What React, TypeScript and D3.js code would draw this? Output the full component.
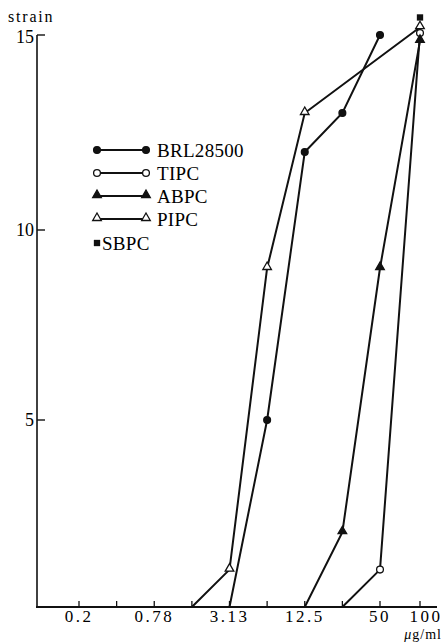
import React, { useEffect, useRef } from 'react';
import * as d3 from 'd3';

// two-fold dilution series (μg/ml)
const concentrations = [0.1, 0.2, 0.39, 0.78, 1.56, 3.13, 6.25, 12.5, 25, 50, 100];
const tickLabels = ['0.2', '0.78', '3.13', '12.5', '50', '100'];
const yTicks = [5, 10, 15];

// cumulative number of strains inhibited
const brl28500 = [[3.13, 0], [6.25, 5], [12.5, 12], [25, 13], [50, 15]];
const tipc = [[25, 0], [50, 1], [100, 15.05]];
const abpc = [[12.5, 0], [25, 2], [50, 9], [100, 14.85]];
const pipc = [[1.56, 0], [3.13, 1], [6.25, 9], [12.5, 13], [100, 15.2]];
const sbpc = [[100, 15.45]];

const seriesNames = ['BRL28500', 'TIPC', 'ABPC', 'PIPC', 'SBPC'];

const App = () => {
  const ref = useRef<SVGSVGElement>(null);

  useEffect(() => {
    const svg = d3.select(ref.current);
    svg.selectAll('*').remove();

    const font = '"Liberation Serif", "DejaVu Serif", serif';
    const idx = (c: number) => concentrations.indexOf(c);

    const x = d3.scaleLinear().domain([1, 9, 10]).range([79, 380, 420]);
    const y = d3.scaleLinear().domain([0, 5, 10, 15]).range([607, 420, 230, 35]);

    // axes
    svg.append('line')
      .attr('x1', 37).attr('x2', 37).attr('y1', y(15)).attr('y2', y(0))
      .attr('stroke', '#111').attr('stroke-width', 1.6);
    svg.append('line')
      .attr('x1', 36).attr('x2', 437).attr('y1', y(0)).attr('y2', y(0))
      .attr('stroke', '#111').attr('stroke-width', 1.8);

    svg.selectAll('.ytick')
      .data(yTicks)
      .join('line')
      .attr('x1', 37).attr('x2', 45)
      .attr('y1', d => y(d)).attr('y2', d => y(d))
      .attr('stroke', '#111').attr('stroke-width', 1.4);

    svg.selectAll('.ylab')
      .data(yTicks)
      .join('text')
      .attr('x', 34).attr('y', d => y(d) + (d === 15 ? 8 : 6))
      .attr('text-anchor', 'end')
      .attr('font-family', font).attr('font-size', 18)
      .text(d => d);

    svg.append('text')
      .attr('x', 8).attr('y', 22)
      .attr('font-family', font).attr('font-size', 16)
      .attr('letter-spacing', 1.8)
      .text('strain');

    const xt = concentrations.slice(1);
    svg.selectAll('.xtick')
      .data(xt)
      .join('line')
      .attr('x1', d => x(idx(d))).attr('x2', d => x(idx(d)))
      .attr('y1', y(0)).attr('y2', y(0) - 6)
      .attr('stroke', '#111').attr('stroke-width', 1.3);

    svg.selectAll('.xlab')
      .data(tickLabels)
      .join('text')
      .attr('x', d => x(idx(+d)) + (d === '100' ? 6 : 0))
      .attr('y', 622)
      .attr('text-anchor', 'middle')
      .attr('font-family', font).attr('font-size', 17)
      .attr('letter-spacing', 2.5)
      .text(d => d);

    const unit = svg.append('text')
      .attr('x', 442).attr('y', 639)
      .attr('text-anchor', 'end')
      .attr('font-family', font).attr('font-size', 14)
      .attr('letter-spacing', 1);
    unit.append('tspan').attr('font-style', 'italic').text('μ');
    unit.append('tspan').text('g/ml');

    // lines
    const line = d3.line<number[]>()
      .x(d => x(idx(d[0])))
      .y(d => y(d[1]));

    const lineSeries = [brl28500, tipc, abpc, pipc];
    svg.selectAll('.series')
      .data(lineSeries)
      .join('path')
      .attr('d', d => line(d))
      .attr('fill', 'none')
      .attr('stroke', '#111')
      .attr('stroke-width', 2);

    const tri = d3.symbol().type(d3.symbolTriangle).size(32);
    const sq = d3.symbol().type(d3.symbolSquare).size(40);

    const drawMarker = (g: any, kind: string, cx: number, cy: number) => {
      if (kind === 'BRL28500' || kind === 'TIPC') {
        g.append('circle')
          .attr('cx', cx).attr('cy', cy).attr('r', 3.4)
          .attr('fill', kind === 'BRL28500' ? '#111' : '#fff')
          .attr('stroke', '#111').attr('stroke-width', 1.3);
      } else if (kind === 'ABPC' || kind === 'PIPC') {
        g.append('path')
          .attr('d', tri())
          .attr('transform', `translate(${cx},${cy - 1})`)
          .attr('fill', kind === 'ABPC' ? '#111' : '#fff')
          .attr('stroke', '#111').attr('stroke-width', 1.3);
      } else {
        g.append('path')
          .attr('d', sq())
          .attr('transform', `translate(${cx},${cy})`)
          .attr('fill', '#111');
      }
    };

    const allSeries = [brl28500, tipc, abpc, pipc, sbpc];
    const mg = svg.append('g');
    allSeries.forEach((s, i) => {
      s.filter(p => p[1] > 0).forEach(p => {
        drawMarker(mg, seriesNames[i], x(idx(p[0])), y(p[1]));
      });
    });

    // legend
    const legY = d3.scalePoint().domain(seriesNames.slice(0, 4)).range([150, 219]);
    const lg = svg.append('g');
    seriesNames.slice(0, 4).forEach(name => {
      const ly = legY(name) as number;
      lg.append('line')
        .attr('x1', 97).attr('x2', 146).attr('y1', ly).attr('y2', ly)
        .attr('stroke', '#111').attr('stroke-width', 2);
      drawMarker(lg, name, 97, ly);
      drawMarker(lg, name, 146, ly);
      lg.append('text')
        .attr('x', 157).attr('y', ly + 7)
        .attr('font-family', font).attr('font-size', 19)
        .attr('letter-spacing', 0.3)
        .text(name);
    });
    drawMarker(lg, 'SBPC', 97, 243);
    lg.append('text')
      .attr('x', 102).attr('y', 250)
      .attr('font-family', font).attr('font-size', 19)
      .attr('letter-spacing', 0.3)
      .text('SBPC');
  }, []);

  return (
    <svg
      ref={ref}
      width={443}
      height={642}
      style={{ position: 'absolute', left: 0, top: 0, background: '#fff' }}
    />
  );
};

export default App;
